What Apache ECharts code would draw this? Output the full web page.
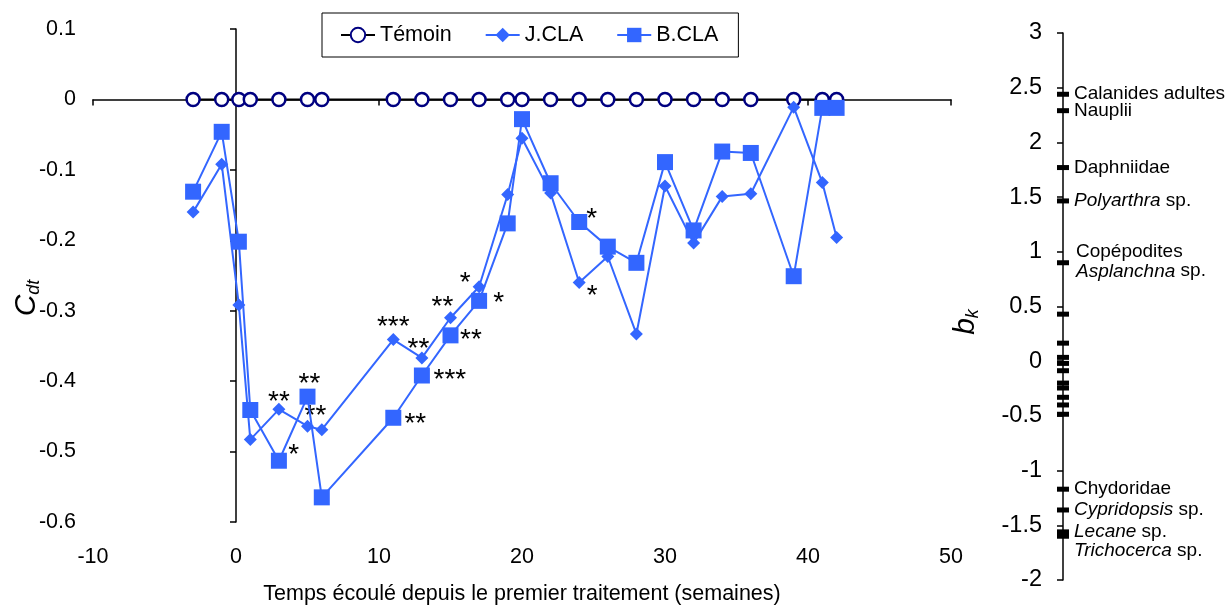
<!DOCTYPE html>
<html><head><meta charset="utf-8">
<script src="https://cdn.jsdelivr.net/npm/echarts@6/dist/echarts.min.js"></script>
<style>html,body{margin:0;padding:0;background:#fff}#c{width:1232px;height:610px}</style>
</head><body><div id="c"></div>
<script>
// ---- data ----
const weeks  = [-3, -1, 0.2, 1, 3, 5, 6, 11, 13, 15, 17, 19, 20, 22, 24, 26, 28, 30, 32, 34, 36, 39, 41, 42];
const temoin = [0, 0, 0, 0, 0, 0, 0, 0, 0, 0, 0, 0, 0, 0, 0, 0, 0, 0, 0, 0, 0, 0, 0, 0];
const jcla   = [-0.160, -0.092, -0.292, -0.483, -0.440, -0.464, -0.469, -0.341, -0.367, -0.310, -0.266, -0.135,
                -0.055, -0.133, -0.260, -0.223, -0.333, -0.123, -0.204, -0.138, -0.134, -0.011, -0.118, -0.196];
const bcla   = [-0.131, -0.046, -0.202, -0.441, -0.513, -0.422, -0.565, -0.452, -0.392, -0.335, -0.286, -0.176,
                -0.028, -0.119, -0.174, -0.209, -0.232, -0.089, -0.186, -0.074, -0.076, -0.251, -0.012, -0.012];
const jStars = ['', '', '', '', '**', '**', '', '***', '**', '**', '*', '', '', '', '*', '', '', '', '', '', '', '', '', ''];
const bStars = ['', '', '', '', '*', '**', '', '**', '***', '**', '*', '', '', '', '*', '', '', '', '', '', '', '', '', ''];
const xTicks = [-10, 0, 10, 20, 30, 40, 50];
const bkValues = [2.44, 2.29, 1.77, 1.465, 0.90, 0.43, 0.165, 0.035, -0.02, -0.087, -0.20, -0.245, -0.33, -0.40, -0.485, -1.17, -1.36, -1.56, -1.60];
const bkLabels = ['Calanides adultes', 'Nauplii', 'Daphniidae', '{i|Polyarthra} sp.', 'Copépodites\n{i|Asplanchna} sp.',
                  '', '', '', '', '', '', '', '', '', '', 'Chydoridae', '{i|Cypridopsis} sp.', '{i|Lecane} sp.\n{i|Trichocerca} sp.', ''];

// ---- layout / style (not data) ----
const FONT = 'Liberation Sans, Arial, sans-serif';
const BLUE = '#3366ff';
const STAR_FIX = 7;   // asterisk glyph sits high in the em box
const jStarOff = {4:[0,-14], 5:[8,-16.5], 7:[0,-19], 8:[-3.5,-15.3], 9:[-8,-17], 10:[-14,-10.4], 14:[13,6.7]};
const bStarOff = {4:[14.7,-12.7], 5:[2,-19.5], 7:[22,0], 8:[28,-2], 9:[20.4,-2.3], 10:[19.6,-5], 14:[12.5,-9.5]};
const bkLabelOff = {4:[2,-1], 17:[0,9]};

function buildSeriesData(values, stars, offs) {
  return weeks.map((w, i) => {
    const item = { value: [w, values[i]] };
    if (stars && stars[i]) {
      const o = offs[i] || [0, -15];
      item.label = {
        show: true, position: 'inside', formatter: stars[i],
        offset: [o[0], o[1] + STAR_FIX],
        color: '#000', fontSize: 28, fontFamily: FONT, align: 'center', verticalAlign: 'middle'
      };
    }
    return item;
  });
}

const chart = echarts.init(document.getElementById('c'), null, {renderer: 'canvas'});
chart.setOption({
  animation: false,
  backgroundColor: '#fff',
  textStyle: {fontFamily: FONT},
  grid: [
    {left: 93, top: 29, width: 858, height: 501, containLabel: false},
    {left: 1063, top: 33, width: 40, height: 547, containLabel: false}
  ],
  legend: {
    left: 322, top: 13, itemWidth: 34, itemHeight: 18, itemGap: 33,
    padding: [11, 20, 11, 18], borderColor: '#000', borderWidth: 1, borderRadius: 0,
    backgroundColor: '#fff',
    textStyle: {fontSize: 21.5, color: '#000', fontFamily: FONT},
    data: ['Témoin', 'J.CLA', 'B.CLA']
  },
  xAxis: [
    { gridIndex: 0, type: 'value', min: -10, max: 50, interval: 10,
      axisLine: {show: true, onZero: true, onZeroAxisIndex: 0, lineStyle: {color: '#000', width: 1.5}},
      axisTick: {show: true, inside: false, length: 6, lineStyle: {color: '#000', width: 1.5}},
      axisLabel: {show: false}, splitLine: {show: false} },
    { gridIndex: 0, type: 'value', position: 'bottom', min: -10, max: 50, interval: 10,
      axisLine: {show: false, onZero: false}, axisTick: {show: false}, splitLine: {show: false},
      axisLabel: {show: true, margin: 24, fontSize: 21.5, color: '#000', fontFamily: FONT,
                  customValues: xTicks},
      name: 'Temps écoulé depuis le premier traitement (semaines)', nameLocation: 'middle', nameGap: 61,
      nameTextStyle: {fontSize: 21.5, color: '#000', fontFamily: FONT} },
    { gridIndex: 1, type: 'value', min: 0, max: 1, show: false }
  ],
  yAxis: [
    { gridIndex: 0, type: 'value', min: -0.6, max: 0.1, interval: 0.1,
      axisLine: {show: true, onZero: true, onZeroAxisIndex: 0, lineStyle: {color: '#000', width: 1.5}},
      axisTick: {show: true, inside: false, length: 6, lineStyle: {color: '#000', width: 1.5}},
      axisLabel: {show: false}, splitLine: {show: false} },
    { gridIndex: 0, type: 'value', position: 'left', min: -0.6, max: 0.1, interval: 0.1,
      axisLine: {show: false, onZero: false}, axisTick: {show: false}, splitLine: {show: false},
      axisLabel: {show: true, margin: 17, fontSize: 21.5, color: '#000', fontFamily: FONT} },
    { gridIndex: 1, type: 'value', position: 'left', min: -2, max: 3, interval: 0.5,
      axisLine: {show: true, onZero: false, lineStyle: {color: '#000', width: 1.5}},
      axisTick: {show: true, inside: false, length: 6, lineStyle: {color: '#000', width: 1.5}},
      axisLabel: {show: true, margin: 21, fontSize: 23.5, color: '#000', fontFamily: FONT},
      splitLine: {show: false} }
  ],
  graphic: [
    { type: 'text', x: 27, y: 298, rotation: Math.PI / 2,
      style: { text: '{c|C}{s|dt}', align: 'center', verticalAlign: 'middle',
        rich: { c: {fontSize: 30, fontStyle: 'italic', fontFamily: FONT, fill: '#000', lineHeight: 32},
                s: {fontSize: 18, fontStyle: 'italic', fontFamily: FONT, fill: '#000', verticalAlign: 'bottom', lineHeight: 24} } } },
    { type: 'text', x: 966, y: 322, rotation: Math.PI / 2,
      style: { text: '{c|b}{s|k}', align: 'center', verticalAlign: 'middle',
        rich: { c: {fontSize: 30, fontStyle: 'italic', fontFamily: FONT, fill: '#000', lineHeight: 32},
                s: {fontSize: 18, fontStyle: 'italic', fontFamily: FONT, fill: '#000', verticalAlign: 'bottom', lineHeight: 24} } } }
  ],
  series: [
    { name: 'Témoin', type: 'line', xAxisIndex: 0, yAxisIndex: 0,
      data: buildSeriesData(temoin, null, null),
      symbol: 'circle', symbolSize: 13, showAllSymbol: true,
      lineStyle: {color: '#000', width: 2},
      itemStyle: {color: '#fff', borderColor: '#000080', borderWidth: 2.5},
      emphasis: {disabled: true}, z: 3 },
    { name: 'J.CLA', type: 'line', xAxisIndex: 0, yAxisIndex: 0,
      data: buildSeriesData(jcla, jStars, jStarOff),
      symbol: 'diamond', symbolSize: 13, showAllSymbol: true,
      lineStyle: {color: BLUE, width: 2}, itemStyle: {color: BLUE},
      emphasis: {disabled: true}, z: 4 },
    { name: 'B.CLA', type: 'line', xAxisIndex: 0, yAxisIndex: 0,
      data: buildSeriesData(bcla, bStars, bStarOff),
      symbol: 'rect', symbolSize: 16, showAllSymbol: true,
      lineStyle: {color: BLUE, width: 2}, itemStyle: {color: BLUE},
      emphasis: {disabled: true}, z: 5 },
    { name: 'bk', type: 'scatter', xAxisIndex: 2, yAxisIndex: 2,
      data: bkValues.map((v, i) => {
        const item = { value: [0, v] };
        if (bkLabels[i]) {
          item.label = { show: true, position: 'right', distance: 5, formatter: bkLabels[i],
            offset: bkLabelOff[i] || [0, 0],
            fontSize: 19, color: '#000', fontFamily: FONT, lineHeight: 19,
            rich: { i: {fontStyle: 'italic', fontSize: 19, color: '#000', fontFamily: FONT, lineHeight: 19} } };
        }
        return item;
      }),
      symbol: 'rect', symbolSize: [12, 5], itemStyle: {color: '#000', opacity: 1},
      emphasis: {disabled: true}, z: 5 }
  ]
});
</script></body></html>
